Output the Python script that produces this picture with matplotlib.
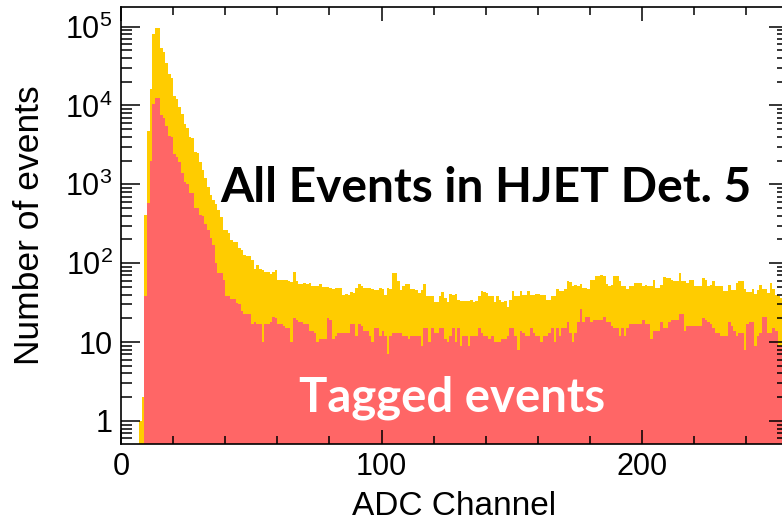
import numpy as np
import matplotlib
matplotlib.use("Agg")
import matplotlib.pyplot as plt
from matplotlib.ticker import FixedLocator, FuncFormatter, LogLocator, MultipleLocator

plt.rcParams['font.family'] = ['Liberation Sans', 'DejaVu Sans']
plt.rcParams['mathtext.fontset'] = 'custom'
plt.rcParams['mathtext.rm'] = 'Liberation Sans'

# ADC channel binning, one channel per bin
adc_edges = np.arange(0, 257)

# counts per channel, all events in the detector
all_events = [
    0, 0, 0, 0, 0, 0, 0, 1, 2, 410, 4700, 16000, 81000, 96000, 95000, 54000,
    47000, 35000, 25000, 22000, 13000, 12000, 9500, 7700, 5900, 5200, 4000, 3900, 2600, 2500, 1900, 1500,
    1200, 930, 740, 630, 570, 470, 390, 265, 260, 240, 195, 186, 184, 155, 148, 126,
    123, 122, 110, 85, 95, 85, 81, 78, 77, 72, 78, 81, 62, 61, 62, 61,
    59, 58, 78, 60, 55, 55, 56, 55, 56, 52, 52, 52, 54, 50, 50, 50,
    48, 47, 48, 49, 49, 40, 41, 40, 43, 42, 48, 55, 51, 48, 49, 48,
    47, 46, 46, 48, 47, 40, 48, 47, 74, 74, 59, 46, 52, 55, 55, 47,
    47, 46, 42, 46, 55, 38, 38, 38, 32, 32, 38, 43, 36, 32, 41, 40,
    41, 34, 33, 33, 33, 33, 34, 32, 33, 38, 45, 43, 42, 38, 38, 32,
    38, 34, 32, 33, 28, 34, 44, 38, 38, 44, 40, 39, 45, 40, 40, 41,
    41, 40, 40, 34, 34, 38, 38, 47, 45, 44, 47, 59, 58, 52, 53, 52,
    55, 48, 48, 47, 62, 61, 69, 69, 70, 68, 54, 52, 53, 69, 69, 60,
    52, 52, 47, 51, 51, 56, 56, 56, 52, 53, 51, 52, 62, 49, 49, 53,
    66, 64, 64, 62, 59, 59, 74, 60, 60, 56, 62, 61, 52, 51, 51, 64,
    62, 52, 53, 60, 52, 52, 51, 45, 45, 53, 46, 46, 56, 60, 60, 47,
    43, 43, 47, 41, 46, 53, 47, 47, 42, 56, 47, 40, 38, 36, 36, 40,
]

# counts per channel, tagged events only
tagged = [
    0, 0, 0, 0, 0, 0, 0, 0, 0, 38, 575, 2000, 10500, 12500, 12500, 7600,
    6900, 5500, 4100, 4000, 2400, 2200, 1900, 1400, 1070, 1020, 780, 770, 500, 500, 410, 400,
    310, 260, 210, 170, 100, 74, 74, 62, 38, 38, 35, 35, 31, 30, 25, 23,
    23, 23, 17, 18, 17, 17, 10, 17, 17, 18, 21, 20, 17, 17, 16, 15,
    15, 10, 20, 19, 18, 18, 17, 17, 14, 14, 13, 10, 11, 11, 11, 20,
    19, 11, 12, 13, 13, 13, 13, 13, 17, 17, 12, 17, 16, 14, 14, 12,
    10, 15, 15, 12, 14, 12, 7, 12, 13, 13, 13, 13, 12, 12, 11, 12,
    12, 12, 12, 9, 15, 15, 10, 15, 13, 13, 15, 15, 11, 10, 12, 15,
    10, 15, 9, 12, 12, 9, 12, 12, 12, 15, 13, 12, 12, 11, 12, 10,
    10, 10, 11, 11, 12, 15, 15, 12, 8, 14, 13, 12, 12, 15, 13, 12,
    12, 10, 12, 12, 13, 15, 10, 15, 12, 15, 15, 18, 13, 10, 13, 18,
    26, 18, 21, 21, 18, 19, 19, 19, 19, 21, 18, 18, 16, 15, 15, 12,
    15, 12, 15, 17, 17, 17, 17, 17, 19, 17, 17, 11, 14, 14, 14, 18,
    15, 15, 18, 19, 19, 19, 23, 23, 14, 16, 16, 16, 16, 16, 16, 20,
    19, 18, 17, 15, 13, 13, 12, 12, 12, 18, 16, 14, 12, 13, 13, 8,
    17, 18, 18, 9, 12, 13, 21, 21, 13, 13, 15, 14, 9, 9, 10, 12,
]

y_ticks = [1, 10, 100, 1000, 10000, 100000]
y_tick_labels = ['1', '10', r'$\mathregular{10^{2}}$', r'$\mathregular{10^{3}}$',
                 r'$\mathregular{10^{4}}$', r'$\mathregular{10^{5}}$']

fig = plt.figure(figsize=(7.82, 5.25), dpi=100)
# frame runs a few pixels past the right edge of the canvas
ax = fig.add_axes([121/782, 81/525, 667/782, 437/525])

ax.stairs(all_events, adc_edges, fill=True, baseline=0.1, color='#FFCC00', lw=0)
ax.stairs(tagged, adc_edges, fill=True, baseline=0.1, color='#FF6666', lw=0)

ax.set_yscale('log')
ax.set_xlim(0, 256)
ax.set_ylim(0.51, 1.77e5)

ax.xaxis.set_major_locator(MultipleLocator(100))
ax.xaxis.set_minor_locator(MultipleLocator(20))
ax.yaxis.set_major_locator(FixedLocator(y_ticks))
ax.yaxis.set_major_formatter(FuncFormatter(lambda v, p: y_tick_labels[y_ticks.index(round(v))] if round(v) in y_ticks else ''))
ax.yaxis.set_minor_locator(LogLocator(base=10, subs=np.arange(2, 10)))
ax.yaxis.set_minor_formatter(FuncFormatter(lambda v, p: ''))

ax.tick_params(which='both', direction='in', top=True, right=True, width=1.1, colors='black')
ax.tick_params(axis='x', which='major', length=10, labelsize=22, pad=6)
ax.tick_params(axis='x', which='minor', length=6)
ax.tick_params(axis='y', which='major', length=14, labelsize=22, pad=6)
ax.tick_params(axis='y', which='minor', length=8)
for s in ax.spines.values():
    s.set_linewidth(1.2)

ax.set_xlabel('ADC Channel', fontsize=24)
ax.set_ylabel('Number of events', fontsize=25.5)
ax.xaxis.set_label_coords(0.5, -0.108)
ax.yaxis.set_label_coords(-0.112, 0.5)

ax.text(0.547, 0.554, 'All Events in HJET Det. 5', transform=ax.transAxes,
        ha='center', va='baseline', fontsize=34.5, fontweight='bold', family='Lato', color='black')
ax.text(0.496, 0.075, 'Tagged events', transform=ax.transAxes,
        ha='center', va='baseline', fontsize=34, fontweight='bold', family='Lato', color='white')

fig.savefig('out.png', dpi=100)
